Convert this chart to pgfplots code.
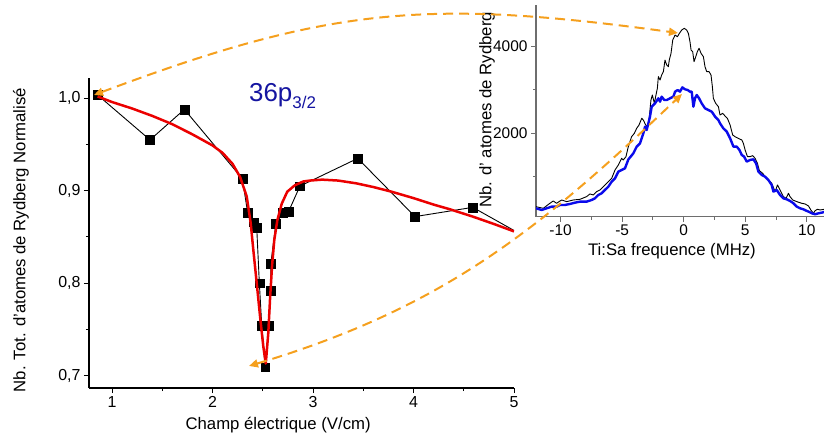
\documentclass[border=0pt]{standalone}
\usepackage{fontspec}
\setmainfont{Liberation Sans}
\usepackage{pgfplots}
\pgfplotsset{compat=1.18}
\usetikzlibrary{arrows.meta}
\definecolor{fitred}{RGB}{235,0,0}
\definecolor{arrowor}{RGB}{245,160,30}
\definecolor{titleblue}{RGB}{20,20,160}
\definecolor{insetgray}{RGB}{110,110,110}
\definecolor{dblue}{RGB}{10,10,235}

\begin{document}
\begin{tikzpicture}
\path[use as bounding box] (0,0) rectangle (824bp,440bp);

% ---------------- main axis ----------------
\begin{axis}[
  at={(89bp,52bp)}, anchor=south west,
  scale only axis, width=425bp, height=310bp,
  xmin=0.771, xmax=5.0, ymin=0.6865, ymax=1.022,
  axis x line*=bottom, axis y line*=left,
  axis line style={line width=1.1bp, -},
  tick align=outside,
  xtick={1,2,3,4,5}, ytick={0.7,0.8,0.9,1.0},
  minor xtick={1.5,2.5,3.5,4.5}, minor ytick={0.75,0.85,0.95},
  major tick length=5bp, minor tick length=3bp,
  every tick/.style={black, line width=1bp},
  yticklabel style={/pgf/number format/.cd, fixed, fixed zerofill, precision=1, use comma},
  /pgf/number format/assume math mode=true,
  tick label style={font=\fontsize{16}{16}\selectfont},
  label style={font=\fontsize{16.8}{17}\selectfont},
  xlabel={Champ électrique (V/cm)},
  ylabel={Nb. Tot. d'atomes de Rydberg Normalisé},
  xlabel style={at={(axis description cs:0.445,-0.118)}, anchor=center},
  ylabel style={at={(axis description cs:-0.160,0.477)}, anchor=center},
  clip marker paths=true,
]
\addplot[black, line width=0.9bp, mark=none] table {
0.857 1.0036
1.378 0.955
1.72 0.988
2.297 0.913
2.35 0.876
2.406 0.866
2.44 0.860
2.466 0.800
2.49 0.754
2.525 0.709
2.56 0.754
2.58 0.792
2.58 0.821
2.63 0.864
2.70 0.876
2.755 0.877
2.87 0.905
3.445 0.935
4.015 0.872
4.59 0.882
5.0 0.857
};
\addplot[only marks, mark=square*, mark size=4.4bp, black] table {
0.857 1.0036
1.378 0.955
1.72 0.988
2.297 0.913
2.35 0.876
2.406 0.866
2.44 0.860
2.466 0.800
2.49 0.754
2.525 0.709
2.56 0.754
2.58 0.792
2.58 0.821
2.63 0.864
2.70 0.876
2.755 0.877
2.87 0.905
3.445 0.935
4.015 0.872
4.59 0.882
};
\addplot[fitred, line width=2.5bp, line join=round] table {
0.857 1.002
1.0 0.996
1.2 0.989
1.4 0.981
1.6 0.972
1.8 0.961
2.0 0.949
2.1 0.941
2.2 0.929
2.274 0.915
2.34 0.894
2.38 0.865
2.406 0.836
2.44 0.800
2.473 0.764
2.506 0.731
2.53 0.713
2.555 0.746
2.572 0.782
2.592 0.818
2.615 0.847
2.645 0.868
2.689 0.886
2.744 0.899
2.821 0.906
2.903 0.910
2.97 0.911
3.09 0.912
3.25 0.911
3.43 0.908
3.6 0.904
3.78 0.899
4.0 0.892
4.2 0.885
4.36 0.880
4.59 0.872
4.8 0.864
5.0 0.856
};
\node[anchor=base west, text=titleblue, inner sep=0pt] at (axis cs:2.363,0.9963)
  {\fontsize{26}{26}\selectfont 36p\raisebox{-6.5bp}{\fontsize{17}{17}\selectfont 3/2}};
\end{axis}

% ---------------- inset axis ----------------
\begin{axis}[
  at={(536bp,223.3bp)}, anchor=south west,
  scale only axis, width=288bp, height=211.7bp,
  xmin=-12, xmax=11.4, ymin=90, ymax=4940,
  axis x line*=bottom, axis y line*=left,
  axis line style={insetgray, line width=1.4bp, -},
  tick align=outside,
  xtick={-10,-5,0,5,10}, minor xtick={-7.5,-2.5,2.5,7.5},
  ytick={2000,4000}, minor ytick={1000,3000},
  major tick length=5bp, minor tick length=3bp,
  every tick/.style={insetgray, line width=1bp},
  scaled y ticks=false,
  yticklabel style={/pgf/number format/1000 sep={}},
  /pgf/number format/assume math mode=true,
  tick label style={font=\fontsize{15.5}{15.5}\selectfont},
  label style={font=\fontsize{16.8}{17}\selectfont},
  xlabel={Ti:Sa frequence (MHz)},
  ylabel={Nb. d' atomes de Rydberg},
  xlabel style={at={(axis description cs:0.472,-0.162)}, anchor=center},
  ylabel style={at={(axis description cs:-0.170,0.504)}, anchor=center},
]
\addplot[black, line width=0.9bp, line join=round] table {
-12.01 320
-11.41 282
-10.87 397
-10.60 450
-10.33 397
-9.92 473
-9.51 435
-8.97 473
-8.43 488
-7.89 550
-7.62 611
-7.34 588
-7.07 664
-6.80 702
-6.67 740
-6.40 817
-6.12 893
-5.85 969
-5.58 1160
-5.31 1275
-5.04 1427
-4.91 1389
-4.69 1466
-4.50 1695
-4.23 1924
-4.01 2000
-3.82 2115
-3.63 2191
-3.41 2344
-3.28 2305
-3.09 2191
-2.93 2153
-2.82 2305
-2.66 2763
-2.55 2878
-2.38 2687
-2.28 2840
-2.14 3031
-2.06 3298
-1.92 3221
-1.79 3336
-1.65 3412
-1.52 3679
-1.38 3565
-1.25 3527
-1.17 3679
-1.03 3832
-0.89 4138
-0.70 4252
-0.51 4214
-0.35 4290
-0.16 4367
0.05 4405
0.24 4367
0.38 4290
0.51 4099
0.60 3908
0.73 3870
0.84 3641
0.98 3756
1.11 3870
1.25 3947
1.41 3832
1.60 3756
1.73 3527
1.87 3412
2.06 3412
2.22 3336
2.33 3069
2.41 2802
2.60 2687
2.82 2611
2.95 2420
3.17 2458
3.36 2397
3.55 2344
3.77 2191
3.98 1962
4.17 1924
4.44 1885
4.72 1847
4.85 1771
4.99 1618
5.18 1466
5.39 1466
5.61 1489
5.80 1427
5.99 1313
6.15 1145
6.42 1084
6.61 1008
6.88 931
7.15 855
7.43 664
7.62 817
7.83 702
8.10 550
8.32 511
8.51 626
8.64 550
8.86 473
9.19 435
9.59 397
9.86 382
10.14 336
10.33 244
10.54 168
10.68 229
10.87 259
11.08 244
11.41 259
};
\addplot[dblue, line width=2.4bp, line join=round] table {
-12.01 282
-11.54 244
-11.14 282
-10.73 320
-10.33 320
-10.05 359
-9.65 359
-9.24 382
-8.83 412
-8.43 435
-7.89 435
-7.48 473
-7.21 511
-6.94 588
-6.67 626
-6.40 702
-6.12 779
-5.85 893
-5.58 969
-5.31 1122
-5.04 1160
-4.77 1198
-4.50 1400
-4.09 1542
-3.82 1695
-3.55 1771
-3.28 2000
-3.14 2153
-3.01 2076
-2.87 2229
-2.74 2382
-2.60 2611
-2.33 2687
-2.06 2802
-1.92 2725
-1.79 2840
-1.57 2763
-1.38 2763
-1.11 2802
-0.84 2840
-0.70 2954
-0.49 2992
-0.30 2954
-0.11 3053
0.11 3008
0.33 2992
0.51 2954
0.65 2954
0.79 2611
0.92 2802
1.06 2878
1.25 2802
1.46 2687
1.73 2573
2.01 2534
2.28 2496
2.55 2382
2.82 2305
2.95 2229
3.22 2115
3.50 2038
3.77 1885
4.04 1695
4.31 1695
4.53 1618
4.72 1504
4.91 1466
5.12 1351
5.39 1389
5.66 1405
5.88 1313
6.07 1122
6.34 1046
6.61 1008
6.88 931
7.15 817
7.29 664
7.56 702
7.83 588
8.10 511
8.37 488
8.64 450
8.92 397
9.19 320
9.46 282
9.73 259
9.95 229
10.14 206
10.41 168
10.68 145
10.95 168
11.22 183
11.41 198
};
\end{axis}

% ---------------- annotation arrows (image coordinates) ----------------
\begin{scope}[x=1bp, y=-1bp, shift={(0,440bp)}]
\draw[arrowor, line width=2bp, dash pattern=on 10bp off 6bp,
      {Triangle[length=9bp,width=8bp]}-{Triangle[length=9bp,width=8bp]}]
  (94,95) .. controls (331,6) and (429,-1) .. (678,33);
\draw[arrowor, line width=2bp, dash pattern=on 10bp off 6bp,
      {Triangle[length=9bp,width=8bp]}-{Triangle[length=9bp,width=8bp]}]
  (249,366) .. controls (442,308) and (537,232) .. (682,94);
\end{scope}
\end{tikzpicture}
\end{document}
